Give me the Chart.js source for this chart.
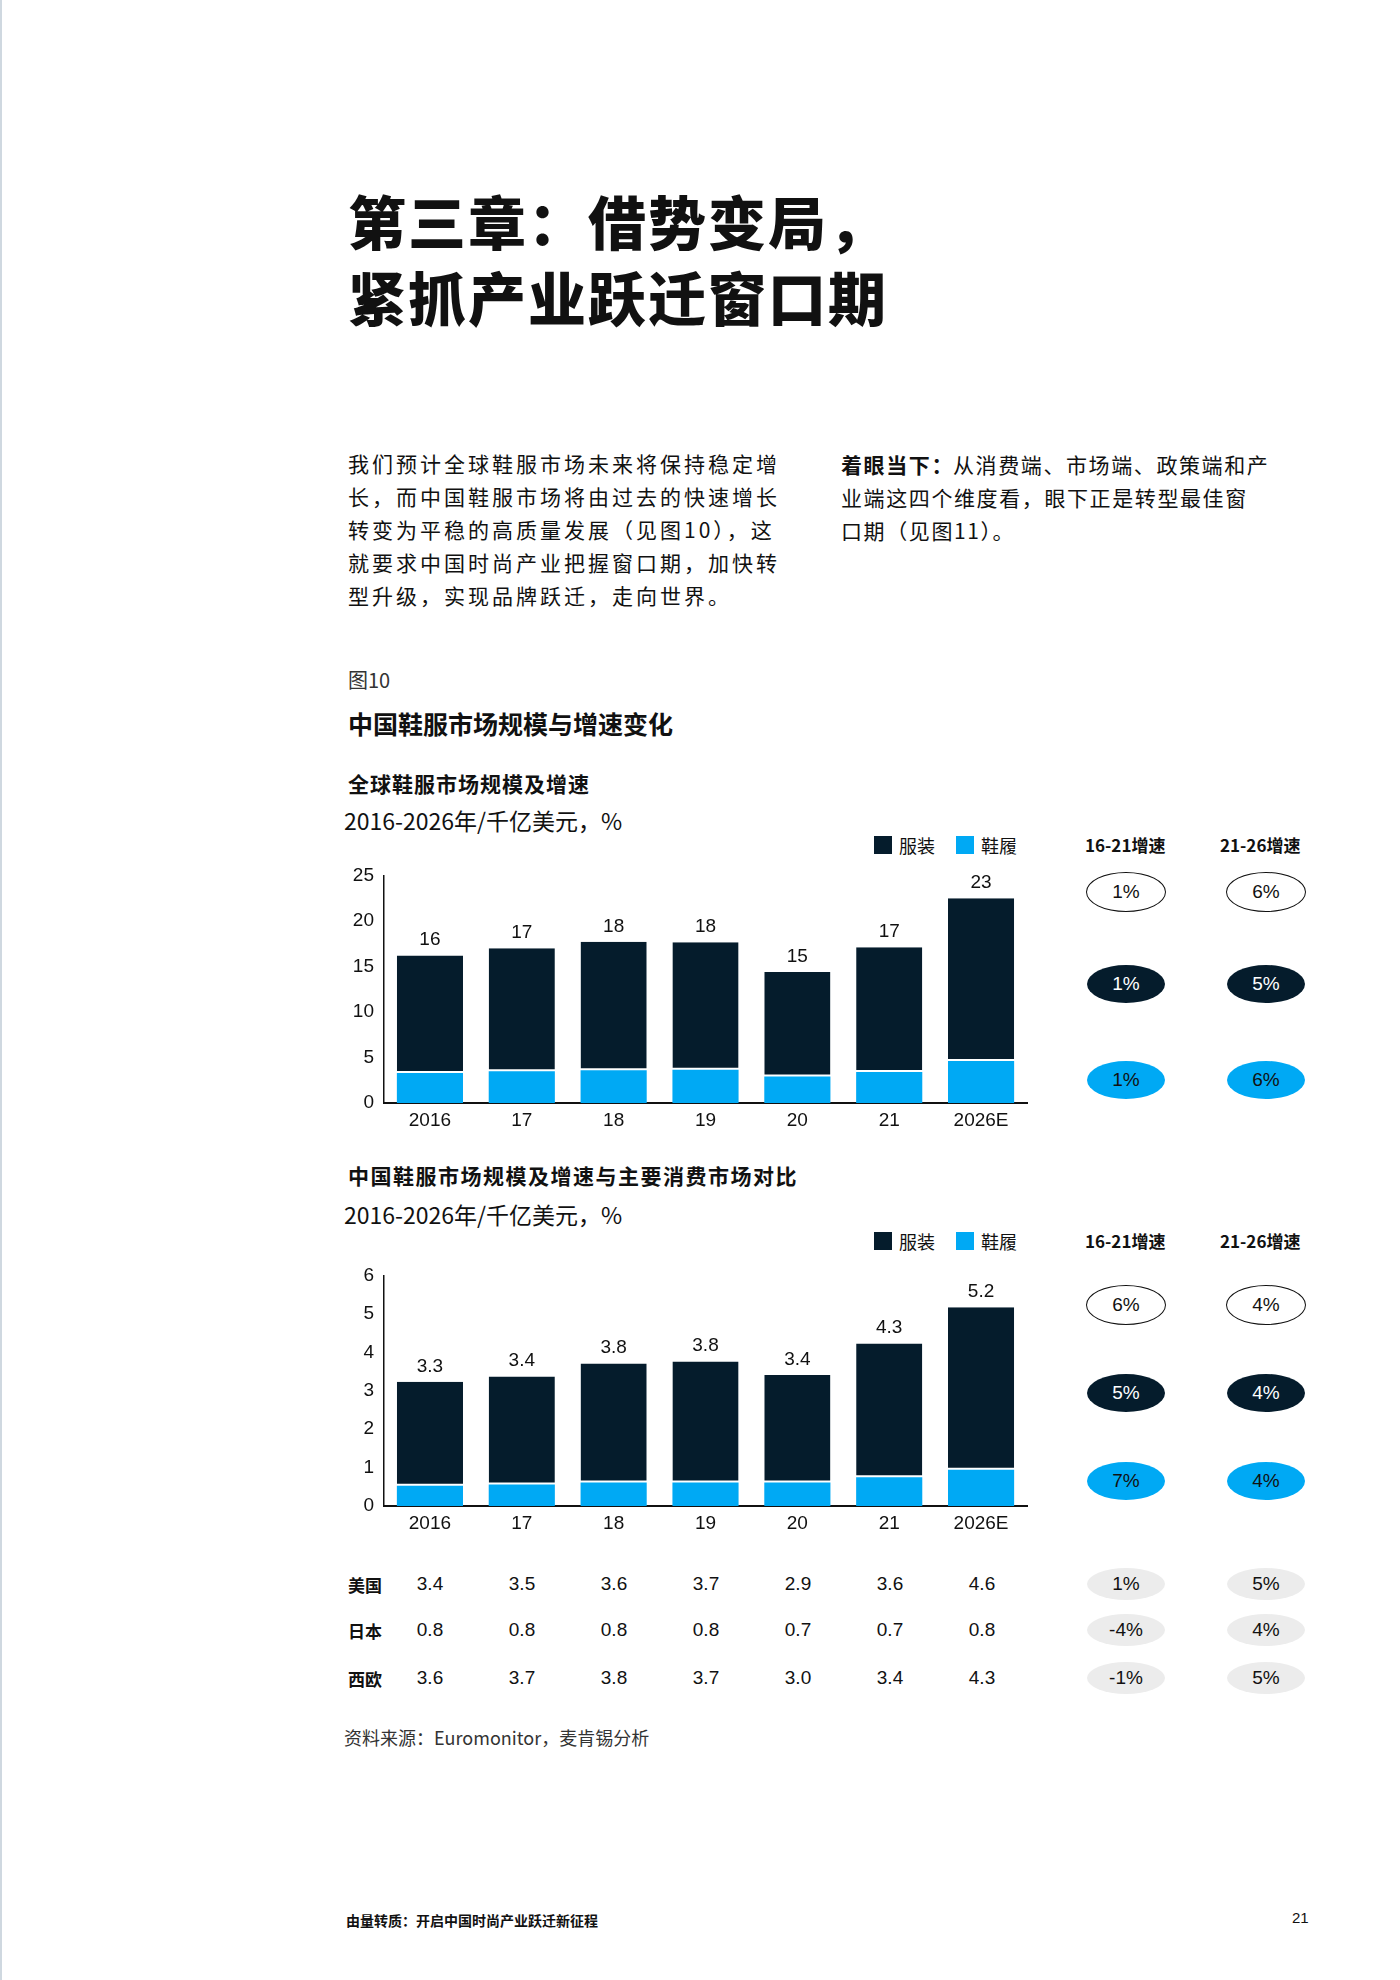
<!DOCTYPE html>
<html><head><meta charset="utf-8">
<script src="https://cdn.jsdelivr.net/npm/chart.js@4"></script>
<style>
body{margin:0;width:1400px;height:1980px;background:#fff;position:relative;font-family:"Liberation Sans",Arial,"Noto Sans CJK SC",sans-serif;color:#111;overflow:hidden}
.a{position:absolute;white-space:nowrap}
.cjk{font-family:"Noto Sans CJK SC",sans-serif}
.t{font-family:"Noto Sans CJK SC";font-weight:900;font-size:58px;line-height:64px;left:348px;letter-spacing:2px}
.p{font-family:"Noto Sans CJK SC";font-size:21px;line-height:33px;white-space:normal}
.r{font-family:"Noto Sans CJK SC";font-size:21px;line-height:30px;letter-spacing:1.6px}
.ov{position:absolute;width:78px;height:38px;border-radius:50%;text-align:center;line-height:38px;font-size:19px;transform:translate(-50%,-50%)}
.w{border:1.5px solid #111;background:#fff;color:#111}
.d{background:#051C2C;color:#fff}
.b{background:#00A9F4;color:#111}
.g{background:#ececec;color:#111}
.sq{position:absolute;width:18px;height:18px}
.tv{position:absolute;font-size:19px;transform:translateX(-50%)}
</style></head><body>
<div class="a" style="left:0;top:0;width:2px;height:1980px;background:#cfd8e0"></div>
<div class="a t" style="top:188px">第三章：借势变局，</div>
<div class="a t" style="top:264px">紧抓产业跃迁窗口期</div>
<div class="a p" style="left:348px;top:447px;width:440px;letter-spacing:3px">我们预计全球鞋服市场未来将保持稳定增长，而中国鞋服市场将由过去的快速增长转变为平稳的高质量发展（见图10），这就要求中国时尚产业把握窗口期，加快转型升级，实现品牌跃迁，走向世界。</div>
<div class="a r" style="left:841px;top:449px;font-weight:700">着眼当下：</div>
<div class="a r" style="left:953px;top:449px">从消费端、市场端、政策端和产</div>
<div class="a r" style="left:841px;top:482px">业端这四个维度看，眼下正是转型最佳窗</div>
<div class="a r" style="left:841px;top:515px">口期（见图11）。</div>
<div class="a cjk" style="left:348px;top:665px;font-size:20px;color:#333">图10</div>
<div class="a cjk" style="left:348px;top:705px;font-size:25px;font-weight:700">中国鞋服市场规模与增速变化</div>

<div class="a cjk" style="left:348px;top:768px;font-size:21px;font-weight:700;letter-spacing:1px">全球鞋服市场规模及增速</div>
<div class="a cjk" style="left:344px;top:803px;font-size:23px">2016-2026年/千亿美元，%</div>
<div class="a cjk" style="left:348px;top:1160px;font-size:21px;font-weight:700;letter-spacing:1.5px">中国鞋服市场规模及增速与主要消费市场对比</div>
<div class="a cjk" style="left:344px;top:1197px;font-size:23px">2016-2026年/千亿美元，%</div>

<div id="extra"></div>
<canvas id="c1" class="a" style="left:332px;top:854px"></canvas>
<canvas id="c2" class="a" style="left:332px;top:1254px"></canvas>

<div class="a cjk" style="left:344px;top:1724px;font-size:18px;color:#333">资料来源：Euromonitor，麦肯锡分析</div>
<div class="a cjk" style="left:346px;top:1910px;font-size:14px;font-weight:700">由量转质：开启中国时尚产业跃迁新征程</div>
<div class="a" style="left:1292px;top:1909px;font-size:15px">21</div>
<script>
const categories=["2016","17","18","19","20","21","2026E"];
const g_apparel=[12.9,13.5,14.1,14.0,11.5,13.7,17.9];
const g_footwear=[3.3,3.5,3.6,3.65,2.9,3.4,4.6];
const g_total=["16","17","18","18","15","17","23"];
const c_apparel=[2.70,2.81,3.10,3.15,2.80,3.48,4.23];
const c_footwear=[0.53,0.56,0.61,0.61,0.61,0.75,0.94];
const c_total=["3.3","3.4","3.8","3.8","3.4","4.3","5.2"];
const g_growth=[["1%","6%"],["1%","5%"],["1%","6%"]];
const c_growth=[["6%","4%"],["5%","4%"],["7%","4%"]];
const tableLabels=["美国","日本","西欧"];
const tableRows=[["3.4","3.5","3.6","3.7","2.9","3.6","4.6"],["0.8","0.8","0.8","0.8","0.7","0.7","0.8"],["3.6","3.7","3.8","3.7","3.0","3.4","4.3"]];
const tableGrowth=[["1%","5%"],["-4%","4%"],["-1%","5%"]];
const seriesNames=["服装","鞋履"];
const NAVY="#051C2C",BLUE="#00A9F4";
const ex=document.getElementById('extra');
function add(html){ex.insertAdjacentHTML('beforeend',html);}
function block(top,growth,rows){
  add(`<div class="sq" style="left:874px;top:${top-9}px;background:${NAVY}"></div><div class="a cjk" style="left:899px;top:${top-13}px;font-size:18px">${seriesNames[0]}</div>`);
  add(`<div class="sq" style="left:956px;top:${top-9}px;background:${BLUE}"></div><div class="a cjk" style="left:981px;top:${top-13}px;font-size:18px">${seriesNames[1]}</div>`);
  add(`<div class="a cjk" style="left:1085px;top:${top-13}px;font-size:17px;font-weight:700">16-21增速</div><div class="a cjk" style="left:1220px;top:${top-13}px;font-size:17px;font-weight:700">21-26增速</div>`);
  const cls=["w","d","b"];
  growth.forEach((r,i)=>r.forEach((v,j)=>add(`<div class="ov ${cls[i]}" style="left:${j?1266:1126}px;top:${rows[i]}px">${v}</div>`)));
}
block(845,g_growth,[892,984,1080]);
block(1241,c_growth,[1305,1393,1481]);
const centers=[430,522,614,706,798,890,982];
const ty=[1584,1630,1678];
tableLabels.forEach((l,i)=>{
  add(`<div class="a cjk" style="left:348px;top:${ty[i]-12}px;font-size:17px;font-weight:700">${l}</div>`);
  tableRows[i].forEach((v,j)=>add(`<div class="tv" style="left:${centers[j]}px;top:${ty[i]-11}px">${v}</div>`));
  tableGrowth[i].forEach((v,j)=>add(`<div class="ov g" style="left:${j?1266:1126}px;top:${ty[i]}px;height:32px;line-height:32px">${v}</div>`));
});
function make(id,app,foot,tot,max,step,top){
  const totalPlugin={id:'tot',afterDatasetsDraw(ch){const c=ch.ctx;const m=ch.getDatasetMeta(1);c.save();c.font='19px "Liberation Sans"';c.fillStyle='#111';c.textAlign='center';c.textBaseline='bottom';m.data.forEach((b,i)=>c.fillText(tot[i],b.x,b.y-6));c.restore();}};
  new Chart(document.getElementById(id),{type:'bar',
    data:{labels:categories,datasets:[
      {label:seriesNames[1],data:foot,backgroundColor:BLUE,borderWidth:0},
      {label:seriesNames[0],data:app,backgroundColor:NAVY,borderColor:'#fff',borderWidth:{bottom:2,top:0,left:0,right:0},borderSkipped:false}]},
    options:{responsive:false,animation:false,devicePixelRatio:1,
      layout:{padding:{top:top,right:5,left:0,bottom:0}},
      plugins:{legend:{display:false},tooltip:{enabled:false}},
      scales:{
        x:{stacked:true,categoryPercentage:0.69,barPercentage:1,grid:{display:false,drawTicks:false},border:{color:'#111',width:2},
           ticks:{color:'#111',font:{size:19,family:'"Liberation Sans"'},padding:6},afterFit(s){s.height=29;}},
        y:{stacked:true,min:0,max:max,grid:{display:false,drawTicks:false},border:{color:'#111',width:1.5},
           ticks:{stepSize:step,color:'#111',font:{size:19,family:'"Liberation Sans"'},padding:10},afterFit(s){s.width=52;}}
      }},plugins:[totalPlugin]});
}
const e1=document.getElementById('c1'),e2=document.getElementById('c2');
e1.width=700;e1.height=278;e2.width=700;e2.height=281;
make('c1',g_apparel,g_footwear,g_total,25,5,6);
make('c2',c_apparel,c_footwear,c_total,6,1,5);
</script>
</body></html>
